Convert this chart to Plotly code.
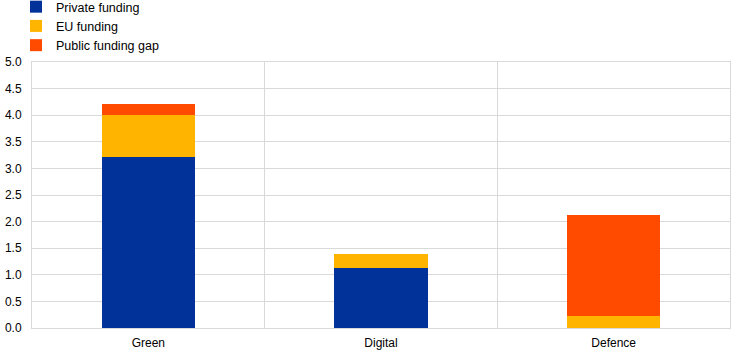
import plotly.graph_objects as go

categories = ["Green", "Digital", "Defence"]
private_funding = [3.21, 1.13, 0.0]
eu_funding = [0.79, 0.27, 0.23]
public_gap = [0.21, 0.0, 1.89]

series_names = ["Private funding", "EU funding", "Public funding gap"]
series_values = [private_funding, eu_funding, public_gap]
series_colors = ["#003299", "#FFB400", "#FF4B00"]

y_ticks = [0.0, 0.5, 1.0, 1.5, 2.0, 2.5, 3.0, 3.5, 4.0, 4.5, 5.0]

fig = go.Figure()
for name, vals, col in zip(series_names, series_values, series_colors):
    fig.add_trace(go.Bar(x=categories, y=vals, name=name, marker=dict(color=col, line=dict(width=0)), width=0.4))

font = dict(family="Arial, Liberation Sans, sans-serif", size=12, color="#000000")
legend_font = dict(family="Arial, Liberation Sans, sans-serif", size=12.5, color="#000000")
fig.update_layout(
    barmode="stack",
    width=742, height=360,
    margin=dict(l=32, r=12, t=62, b=32, autoexpand=False),
    paper_bgcolor="white", plot_bgcolor="white",
    font=font,
    showlegend=True,
    legend=dict(orientation="v", traceorder="normal", xref="container", yref="paper",
                x=0.0216, y=1.263, xanchor="left", yanchor="top", font=legend_font,
                bgcolor="rgba(0,0,0,0)", tracegroupgap=0),
    xaxis=dict(type="category", tickson="boundaries", showgrid=True, gridcolor="#d9d9d9", gridwidth=1,
               showline=True, linecolor="#d9d9d9", linewidth=1, mirror=True, ticks="", tickfont=font,
               ticklabelstandoff=4),
    yaxis=dict(range=[0, 5], tickvals=y_ticks, tickformat=".1f", showgrid=True, gridcolor="#d9d9d9",
               gridwidth=1, showline=True, linecolor="#d9d9d9", linewidth=1, mirror=True, ticks="",
               zeroline=False, tickfont=font, ticklabelstandoff=7),
)

fig.write_html("out.html", config={"displayModeBar": False}, post_script="document.body.style.margin='0';")
